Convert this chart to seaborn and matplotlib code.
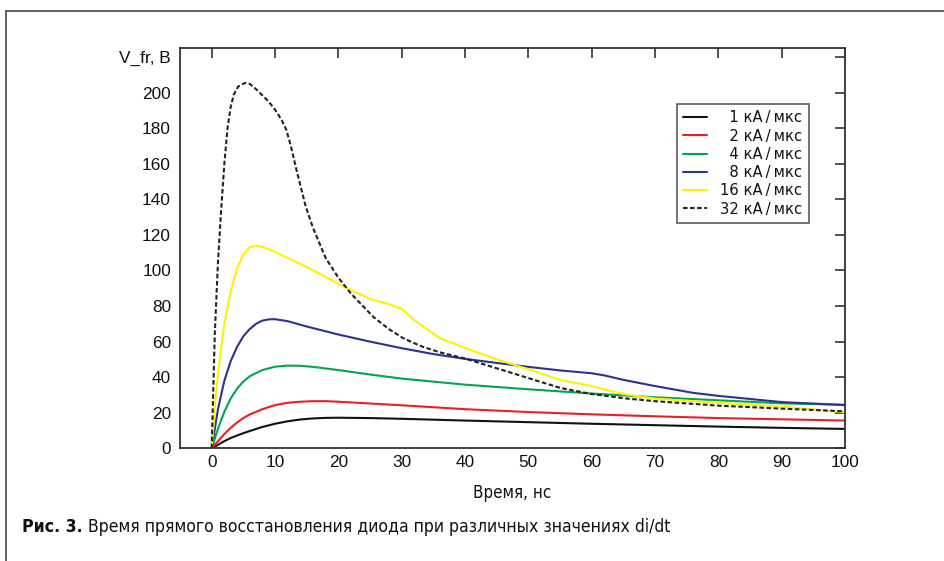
import matplotlib
matplotlib.use("Agg")
import matplotlib.pyplot as plt
import seaborn as sns
import pandas as pd
from matplotlib import font_manager
from matplotlib.lines import Line2D

# ---------------- data ----------------
series_labels = ["1 кА/мкс", "2 кА/мкс", "4 кА/мкс", "8 кА/мкс", "16 кА/мкс", "32 кА/мкс"]

t_1 = [0, 1, 2, 3, 4, 5, 6, 8, 10, 12, 14, 16, 18, 20, 25, 30, 40, 50, 60, 70, 80, 90, 100]
v_1 = [0, 2, 4, 5.8, 7.2, 8.5, 9.7, 12, 13.8, 15.2, 16.2, 16.8, 17.1, 17.2, 17, 16.6, 15.6, 14.7, 13.8, 13, 12.2, 11.5, 10.9]

t_2 = [0, 1, 2, 3, 4, 5, 6, 8, 10, 12, 14, 16, 18, 20, 25, 30, 40, 50, 60, 70, 80, 90, 100]
v_2 = [0, 4, 8, 11.5, 14.5, 17, 19, 22, 24.3, 25.6, 26.2, 26.5, 26.5, 26.2, 25.2, 24.2, 22, 20.4, 19.1, 18, 17, 16.3, 15.6]

t_4 = [0, 1, 2, 3, 4, 5, 6, 8, 10, 12, 14, 16, 20, 25, 30, 40, 50, 60, 70, 80, 90, 100]
v_4 = [0, 11, 20.5, 28, 33.5, 37.5, 40.5, 44, 45.9, 46.5, 46.4, 45.8, 44, 41.5, 39.2, 35.8, 33.2, 30.8, 28.7, 27, 25.3, 24.5]

t_8 = [0, 1, 2, 3, 4, 5, 6, 7, 8, 9, 10, 12, 15, 20, 25, 30, 35, 40, 45, 50, 55, 60, 62, 65, 70, 76, 80, 90, 100]
v_8 = [0, 22, 38, 49, 57, 63, 67, 70, 71.8, 72.5, 72.6, 71.5, 68.5, 64, 60, 56.3, 53, 50.3, 48, 45.8, 43.8, 42.2, 41, 38.5, 35, 31.2, 29.5, 26, 24.3]

t_16 = [0, 0.5, 1, 2, 3, 4, 5, 6, 7, 8, 10, 12, 15, 20, 25, 28, 30, 32, 36, 40, 45, 50, 55, 60, 65, 70, 80, 90, 100]
v_16 = [0, 23, 42, 70, 88, 101, 109, 113, 114, 113.3, 110.5, 107, 102, 92.5, 84, 81, 78.5, 72, 62, 56.5, 50, 44.5, 38.5, 35, 30.5, 28, 25.5, 23.5, 20.3]

t_32 = [0, 0.5, 1, 1.5, 2, 2.5, 3, 3.5, 4.2, 5.3, 6, 7, 8, 9, 10, 11, 11.8, 12.5, 13.5, 14.85, 16, 18, 20, 22, 25.5, 28, 30.2, 33, 36, 40, 45, 50, 55, 60, 65.5, 70, 80, 90, 100]
v_32 = [0, 65, 105, 134, 160, 180, 192, 199, 203.5, 205.5, 205, 202, 198.5, 195, 190.5, 185, 179, 170, 155, 136, 124, 107, 96, 87, 74, 67, 62, 57.5, 54, 50.5, 45, 39.5, 34, 30.5, 28, 26.5, 24, 22.3, 20.8]

series_t = [t_1, t_2, t_4, t_8, t_16, t_32]
series_v = [v_1, v_2, v_4, v_8, v_16, v_32]

x_ticks = list(range(0, 101, 10))
y_ticks = list(range(0, 221, 20))
y_tick_labels = [str(v) for v in y_ticks[:-1]] + ["V_fr, B"]
x_label = "Время, нс"
caption_bold = "Рис. 3."
caption_rest = "Время прямого восстановления диода при различных значениях di/dt"

# ---------------- styling ----------------
colors = ["#111111", "#ee1c25", "#00a651", "#2e3192", "#fff200", "#222222"]
styles = ["-", "-", "-", "-", "-", (0, (2.2, 1.2))]

sns.set_style("white")
plt.rcParams['font.family'] = ['Liberation Sans', 'DejaVu Sans']

available = {f.name for f in font_manager.fontManager.ttflist}
if "Liberation Sans Narrow" in available:
    narrow = dict(family=["Liberation Sans Narrow", "DejaVu Sans"])
else:
    narrow = dict(family=["DejaVu Sans"], fontstretch="condensed")

W, H = 944, 561
fig = plt.figure(figsize=(W / 100, H / 100), dpi=100)
ax = fig.add_axes([180 / W, 1 - 448.3 / H, 665 / W, 400.6 / H])

rows = []
for lab, ts, vs in zip(series_labels, series_t, series_v):
    for t, v in zip(ts, vs):
        rows.append({"series": lab, "t": t, "v": v})
df = pd.DataFrame(rows)

LW = 1.5
handles = []
for lab, col, ls in zip(series_labels, colors, styles):
    sub = df[df["series"] == lab]
    sns.lineplot(data=sub, x="t", y="v", ax=ax, color=col, linewidth=LW,
                 linestyle=ls, estimator=None, sort=False)
    handles.append(Line2D([], [], color=col, linewidth=LW, linestyle=ls))

ax.set_xlim(-5, 100)
ax.set_ylim(0, 225.3)
ax.set_xticks(x_ticks)
ax.set_xticklabels([str(x) for x in x_ticks])
ax.set_yticks(y_ticks)
ax.set_yticklabels(y_tick_labels)
ax.set_xlabel("")
ax.set_ylabel("")
for s in ax.spines.values():
    s.set_color("#333333")
    s.set_linewidth(1.3)
ax.tick_params(direction="in", length=7.5, width=1.2, color="#333333",
               top=True, right=True, labelsize=12.4, labelcolor="#111111")
ax.tick_params(axis="y", pad=6.5)
ax.tick_params(axis="x", pad=5)

fig.text(512.5 / W, 1 - 493 / H, x_label, ha="center", va="center",
         fontsize=12.2, color="#111111", **narrow)

leg_labels = ["\u2007" + series_labels[0], "\u2007" + series_labels[1],
              "\u2007" + series_labels[2], "\u2007" + series_labels[3],
              series_labels[4], series_labels[5]]
leg_labels = [l.replace("/", "\u2009/\u2009") for l in leg_labels]
leg = ax.legend(handles, leg_labels, loc="upper left", bbox_to_anchor=(0.747, 0.859),
                frameon=True, fancybox=False, edgecolor="#333333",
                handlelength=1.65, handletextpad=0.9, labelspacing=0.22,
                borderpad=0.42, borderaxespad=0,
                prop={"family": ["DejaVu Sans"], "size": 10.6})
leg.get_frame().set_linewidth(1.2)
for txt in leg.get_texts():
    txt.set_color("#111111")

# outer frame lines
fig.add_artist(Line2D([6 / W, 6 / W], [0, 1 - 10.5 / H], transform=fig.transFigure,
                      color="#555555", linewidth=1.3))
fig.add_artist(Line2D([6 / W, 1], [1 - 10.5 / H, 1 - 10.5 / H], transform=fig.transFigure,
                      color="#555555", linewidth=1.3))

# caption
cap1 = fig.text(22 / W, 1 - 527 / H, caption_bold, ha="left", va="center",
                fontsize=12.7, fontweight="bold", color="#111111", **narrow)
fig.canvas.draw()
bb = cap1.get_window_extent(renderer=fig.canvas.get_renderer())
fig.text((bb.x1 + 5) / W, 1 - 527 / H, caption_rest, ha="left", va="center",
         fontsize=12.6, color="#111111", **narrow)

fig.savefig("out.png", dpi=100)
